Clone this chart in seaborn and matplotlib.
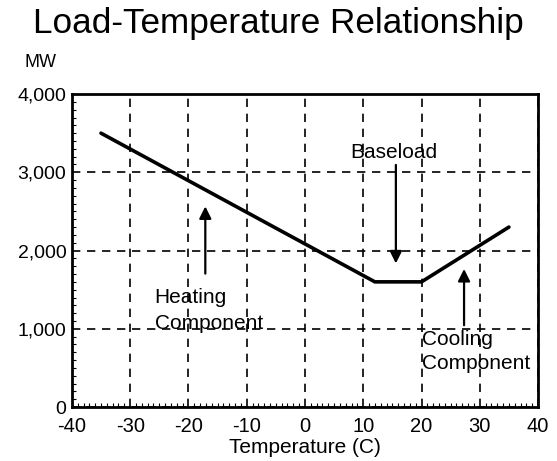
import matplotlib
matplotlib.use('Agg')

import matplotlib.pyplot as plt
import seaborn as sns
import pandas as pd
from matplotlib.ticker import MultipleLocator, FuncFormatter

# load curve break points
temps = [-35, 12, 20, 35]
load_mw = [3500, 1600, 1600, 2300]

x_ticks = [-40, -30, -20, -10, 0, 10, 20, 30, 40]
y_ticks = [0, 1000, 2000, 3000, 4000]

df = pd.DataFrame({'Temperature': temps, 'Load': load_mw})

sns.set_style('white')
plt.rcParams['font.family'] = ['Liberation Sans', 'DejaVu Sans']
plt.rcParams['axes.unicode_minus'] = False
for k in ['text.color', 'axes.labelcolor', 'xtick.color', 'ytick.color']:
    plt.rcParams[k] = 'black'

fig = plt.figure(figsize=(5.57, 4.61), dpi=100)
ax = fig.add_axes([0.129, 0.117, 0.837, 0.679])

sns.lineplot(data=df, x='Temperature', y='Load', color='black', linewidth=2.6, ax=ax)

ax.set_xlim(-40, 40)
ax.set_ylim(0, 4000)
ax.set_xticks(x_ticks)
ax.set_yticks(y_ticks)
ax.xaxis.set_major_formatter(FuncFormatter(lambda v, p: f'{int(v)}'))
ax.yaxis.set_major_formatter(FuncFormatter(lambda v, p: f'{int(v):,}'))
ax.xaxis.set_minor_locator(MultipleLocator(1))
ax.yaxis.set_minor_locator(MultipleLocator(100))
ax.tick_params(axis='x', which='major', labelsize=14.5, length=0, pad=7.5)
ax.tick_params(axis='y', which='major', labelsize=14, length=0, pad=4)
ax.tick_params(axis='both', which='minor', direction='in', length=3, width=0.8,
               bottom=True, left=True)

ax.grid(True, which='major', linestyle=(0, (5, 4)), color='black', linewidth=1.2)
for s in ax.spines.values():
    s.set_color('black')
    s.set_linewidth(2)

ax.set_xlabel('Temperature (C)', fontsize=15, labelpad=1)
ax.set_ylabel('')

fig.text(0.5, 0.985, 'Load-Temperature Relationship', ha='center', va='top', fontsize=25.3)
fig.text(0.072, 0.865, 'MW', ha='center', va='center', fontsize=13)

arrow = dict(arrowstyle='-|>', color='black', lw=1.6, mutation_scale=18)

# baseload
ax.annotate('', xy=(15.6, 1800), xytext=(15.6, 3130), arrowprops=arrow)
ax.text(15.3, 3256, 'Baseload', ha='center', va='center', fontsize=15)

# heating
ax.annotate('', xy=(-17.1, 2600), xytext=(-17.1, 1670), arrowprops=arrow)
ax.text(-25.8, 1400, 'Heating', ha='left', va='center', fontsize=15)
ax.text(-25.8, 1065, 'Component', ha='left', va='center', fontsize=15)

# cooling
ax.annotate('', xy=(27.3, 1800), xytext=(27.3, 1010), arrowprops=arrow)
ax.text(20.0, 860, 'Cooling', ha='left', va='center', fontsize=15)
ax.text(20.0, 560, 'Component', ha='left', va='center', fontsize=15)

plt.savefig('out.png', dpi=100)
plt.close()
